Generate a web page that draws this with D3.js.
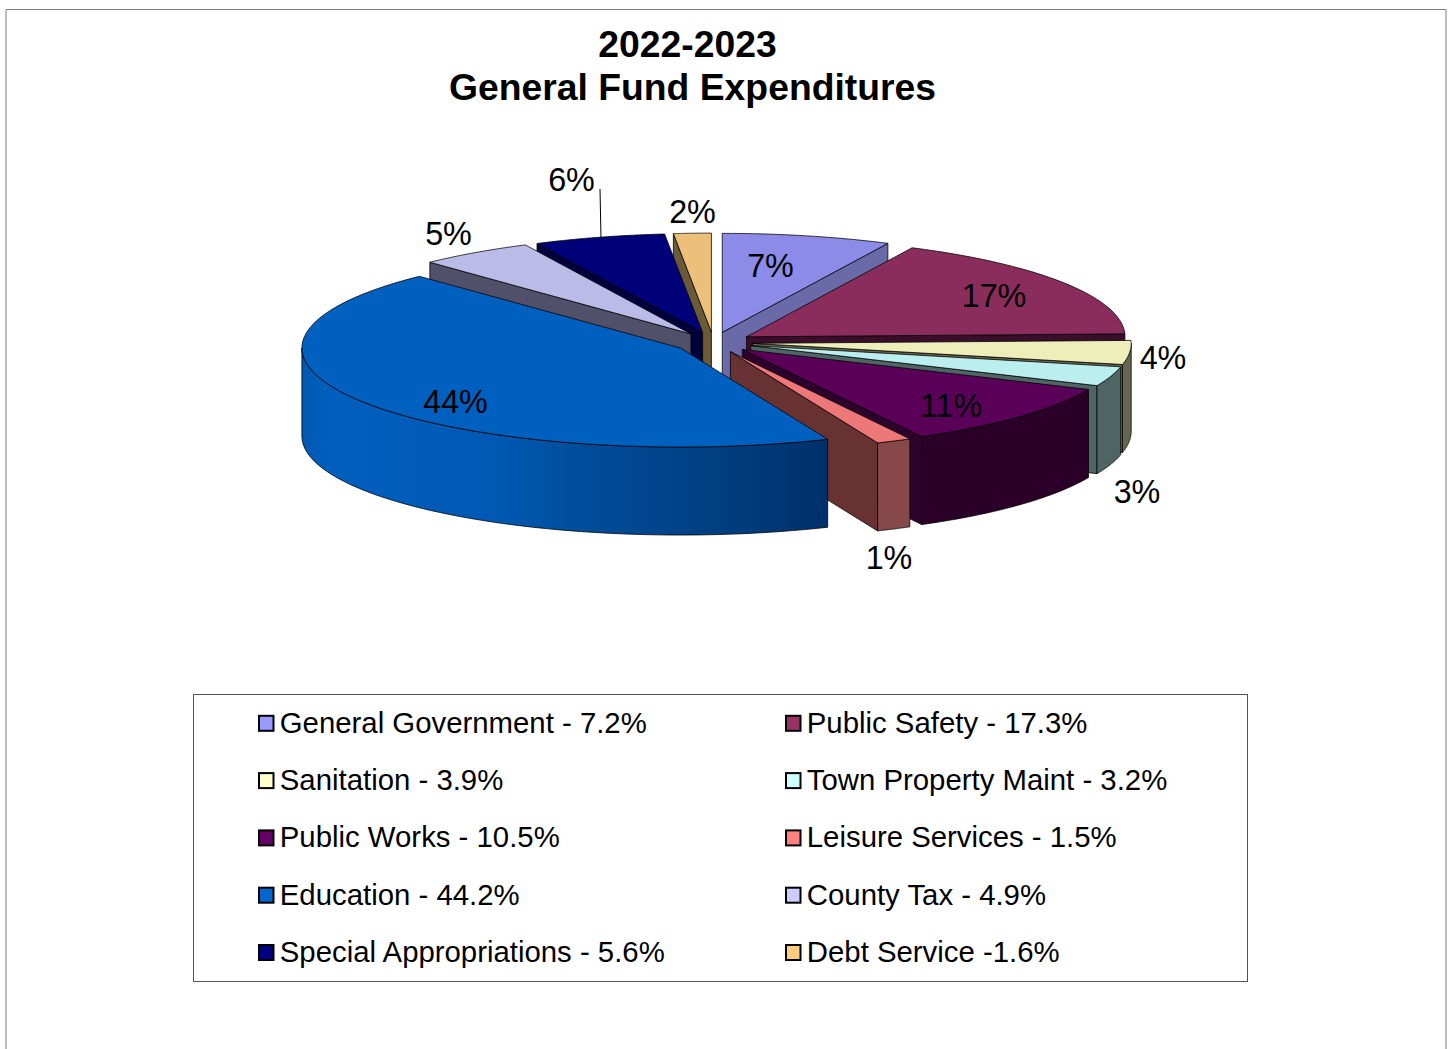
<!DOCTYPE html>
<html>
<head>
<meta charset="utf-8">
<title>General Fund Expenditures</title>
<script src="https://cdn.jsdelivr.net/npm/d3@7/dist/d3.min.js"></script>
<style>
  html, body { margin: 0; padding: 0; background: #fff; }
  svg { display: block; }
  text { font-family: "Liberation Sans", Arial, sans-serif; fill: #000; }
</style>
</head>
<body>
<script>
// Budget shares, in percent, clockwise from twelve o'clock
const categories = ["General Government", "Public Safety", "Sanitation", "Town Property Maint", "Public Works",
                    "Leisure Services", "Education", "County Tax", "Special Appropriations", "Debt Service"];
const shares = [7.2, 17.3, 3.9, 3.2, 10.5, 1.5, 44.2, 4.9, 5.6, 1.6];
const sliceLabels = ["7%", "17%", "4%", "3%", "11%", "1%", "44%", "5%", "6%", "2%"];
const legendLabels = ["General Government - 7.2%", "Public Safety - 17.3%", "Sanitation - 3.9%", "Town Property Maint - 3.2%",
                      "Public Works - 10.5%", "Leisure Services - 1.5%", "Education - 44.2%", "County Tax - 4.9%",
                      "Special Appropriations - 5.6%", "Debt Service -1.6%"];
const titleLines = ["2022-2023", "General Fund Expenditures"];

// Colours
const legendColors = ["#9999ff", "#993366", "#ffffcc", "#ccffff", "#660066", "#ff8080", "#0066cc", "#ccccff", "#000080", "#ffcc80"];
const topColors    = ["#8c8ce8", "#8a2d5c", "#eeeebb", "#bbeeee", "#5a0058", "#ee7777", "#0060c0", "#bbbbe8", "#000078", "#ecc07a"];
const sideColors   = ["#6a6aa8", "#3a0e2a", "#666650", "#4f6565", "#2e002c", "#683232", "#00306a", "#50506a", "#00003c", "#6b5a38"];
const outerColors  = ["#6a6aa8", "#3a0e2a", "#666650", "#4f6565", "#2a0028", "#864848", "url(#educationWall)", "#50506a", "#00003c", "#6b5a38"];

// Back slices are painted first, Education last because it overlaps its neighbours
const paintOrder = ["Debt Service", "General Government", "Special Appropriations", "County Tax", "Public Safety",
                    "Sanitation", "Town Property Maint", "Public Works", "Leisure Services", "Education"];

const width = 1452, height = 1049;
const svg = d3.select("body").append("svg").attr("width", width).attr("height", height);

// Page frame: top and both sides only
svg.append("path")
   .attr("d", "M6,1049V9.5H1446V1049")
   .attr("fill", "none").attr("stroke", "#7f7f7f").attr("stroke-width", 1);

// Title
svg.append("text").attr("x", 687.5).attr("y", 57).attr("text-anchor", "middle")
   .attr("font-size", 37.3).attr("font-weight", "bold").text(titleLines[0]);
svg.append("text").attr("x", 692.5).attr("y", 100).attr("text-anchor", "middle")
   .attr("font-size", 37.3).attr("font-weight", "bold").text(titleLines[1]);

// Gradient along the big outer wall
const grad = svg.append("defs").append("linearGradient")
   .attr("id", "educationWall").attr("gradientUnits", "userSpaceOnUse")
   .attr("x1", 302).attr("x2", 828).attr("y1", 0).attr("y2", 0);
[[0, "#0058b0"], [0.05, "#005fbe"], [0.38, "#0058b2"], [0.55, "#004c98"], [0.8, "#003e80"], [1, "#00306a"]]
  .forEach(([o, c]) => grad.append("stop").attr("offset", o).attr("stop-color", c));

// Ellipse projection: unit disc coordinates onto the page
const x = d3.scaleLinear().domain([-1, 1]).range([713.4 - 378.6, 713.4 + 378.6]);
const y = d3.scaleLinear().domain([-1, 1]).range([342.4 - 99, 342.4 + 99]);
const explode = 0.104;
const depth = 88;

const arcs = d3.pie().sort(null).value(d => d).startAngle(0).endAngle(2 * Math.PI)(shares);
const line = d3.line();

const apex = a => {
  const mid = (a.startAngle + a.endAngle) / 2;
  return [explode * Math.sin(mid), -explode * Math.cos(mid)];
};
const rim = (a, t) => {
  const o = apex(a);
  return [o[0] + Math.sin(t), o[1] - Math.cos(t)];
};
const page = (p, drop = 0) => [x(p[0]), y(p[1]) + drop];
const sweep = (a, from, to) => d3.range(0, 61).map(i => rim(a, from + (to - from) * i / 60));

const pie = svg.append("g")
   .attr("stroke", "#000").attr("stroke-width", 0.9).attr("stroke-opacity", 0.85).attr("stroke-linejoin", "round");

paintOrder.forEach(name => {
  const i = categories.indexOf(name);
  const a = arcs[i];
  const o = apex(a);
  const g = pie.append("g").attr("class", "slice");

  // Radial walls: the leading edge faces the viewer on the left half, the trailing edge on the right
  const radialWall = t => {
    const pts = [page(o), page(rim(a, t)), page(rim(a, t), depth), page(o, depth)];
    g.append("path").attr("d", line(pts) + "Z").attr("fill", sideColors[i]);
  };
  if (Math.sin(a.startAngle) < -0.001) radialWall(a.startAngle);
  if (Math.sin(a.endAngle) > 0.001) radialWall(a.endAngle);

  // Curved outer wall, only the part on the near side of the ellipse
  const from = Math.max(a.startAngle, Math.PI / 2);
  const to = Math.min(a.endAngle, 3 * Math.PI / 2);
  if (to > from) {
    const edge = sweep(a, from, to);
    const pts = edge.map(p => page(p)).concat(edge.slice().reverse().map(p => page(p, depth)));
    g.append("path").attr("d", line(pts) + "Z").attr("fill", outerColors[i]);
  }

  // Top face
  const top = [page(o)].concat(sweep(a, a.startAngle, a.endAngle).map(p => page(p)));
  g.append("path").attr("d", line(top) + "Z").attr("fill", topColors[i]);
});

// Percentage labels, centred on their anchors
const labelAnchors = [[770.5, 265.5], [994, 295.5], [1163, 357.5], [1137, 491.5], [951, 405.5],
                      [889, 557.5], [455.5, 401.5], [448.5, 233.5], [571.5, 179.5], [692.5, 211.5]];
svg.append("g").selectAll("text").data(sliceLabels).join("text")
   .attr("x", (d, i) => labelAnchors[i][0])
   .attr("y", (d, i) => labelAnchors[i][1] + 11)
   .attr("text-anchor", "middle").attr("font-size", 32.3).text(d => d);

// Leader line from the 6% label to its slice
svg.append("line").attr("x1", 600).attr("y1", 189).attr("x2", 601).attr("y2", 238)
   .attr("stroke", "#000").attr("stroke-width", 1);

// Legend
svg.append("rect").attr("x", 193.5).attr("y", 694.5).attr("width", 1054).attr("height", 287)
   .attr("fill", "#fff").attr("stroke", "#555").attr("stroke-width", 1);
const rowY = d3.scalePoint().domain(d3.range(5)).range([722.8, 952]);
const colX = d3.scalePoint().domain(d3.range(2)).range([258, 785]);
const item = svg.append("g").selectAll("g").data(legendLabels).join("g")
   .attr("transform", (d, i) => `translate(${colX(i % 2)},${rowY(Math.floor(i / 2))})`);
item.append("rect").attr("x", 1).attr("y", -7).attr("width", 14.5).attr("height", 15)
   .attr("fill", (d, i) => legendColors[i]).attr("stroke", "#000").attr("stroke-width", 2);
item.append("text").attr("x", 21.8).attr("y", 10).attr("font-size", 29.35).text(d => d);
</script>
</body>
</html>
